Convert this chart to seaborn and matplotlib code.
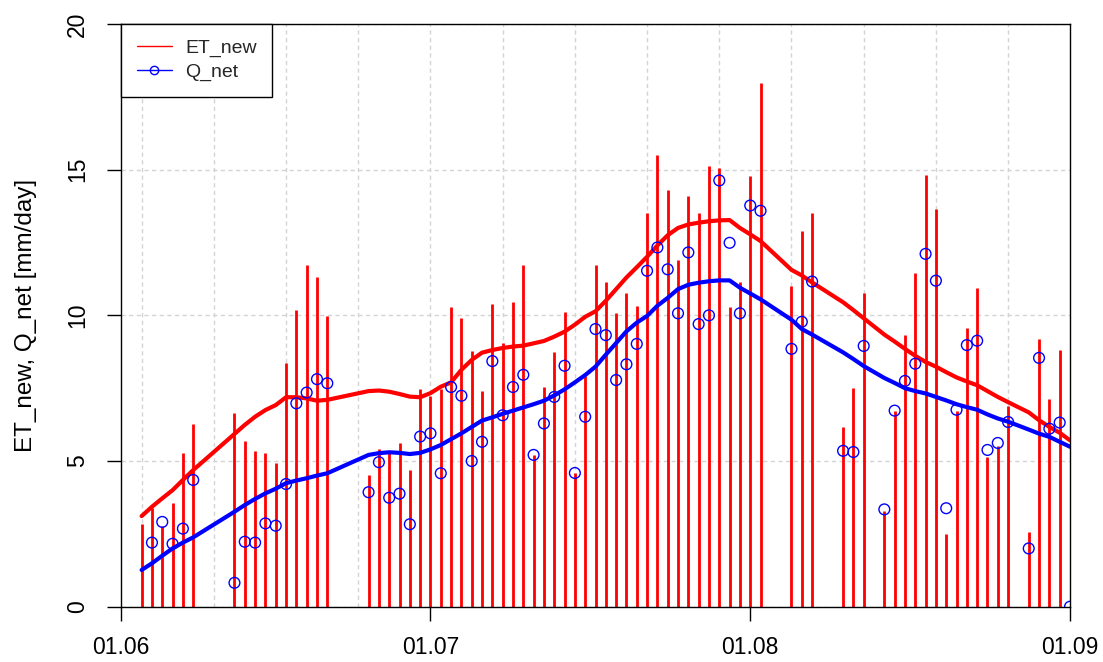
import numpy as np
import pandas as pd
import seaborn as sns
import matplotlib
matplotlib.use("Agg")
import matplotlib.pyplot as plt
from matplotlib.lines import Line2D

# Tage seit dem 1. Juni
days = [2, 3, 4, 5, 6, 7,
        11, 12, 13, 14, 15, 16, 17, 18, 19, 20,
        24, 25, 26, 27, 28, 29, 30, 31, 32, 33,
        34, 35, 36, 37, 38, 39, 40, 41, 42, 43,
        44, 45, 46, 47, 48, 49, 50, 51, 52, 53,
        54, 55, 56, 57, 58, 59, 60, 61, 62,
        65, 66, 67,
        70, 71, 72,
        74, 75, 76, 77, 78, 79, 80, 81, 82, 83, 84, 85, 86,
        88, 89, 90, 91, 92]

et_new = [2.84, 3.38, 2.77, 3.55, 5.26, 6.26,
          6.64, 5.69, 5.34, 5.27, 4.92, 8.35, 10.19, 11.73, 11.33, 9.99,
          4.52, 5.40, 5.27, 5.61, 4.69, 7.46, 7.24, 7.46, 10.28, 9.90,
          8.78, 7.40, 10.40, 9.04, 10.45, 11.73, 5.21, 7.55, 8.73, 10.12,
          4.59, 7.93, 11.72, 11.13, 10.08, 10.76, 10.33, 13.53, 15.49, 14.31,
          11.89, 14.08, 13.53, 15.12, 15.06, 10.30, 11.13, 14.78, 17.98,
          11.00, 12.89, 13.53,
          6.18, 7.50, 10.76,
          3.30, 6.70, 9.34, 11.47, 14.82, 13.65, 2.48, 6.70, 9.56, 10.93, 5.15, 5.51, 6.90,
          2.56, 9.18, 7.14, 8.80, 0.0]

q_net = [np.nan, 2.20, 2.91, 2.16, 2.68, 4.35,
         0.82, 2.23, 2.20, 2.86, 2.78, 4.21, 6.98, 7.35, 7.81, 7.67,
         3.93, 4.96, 3.74, 3.88, 2.83, 5.84, 5.95, 4.58, 7.54, 7.24,
         5.00, 5.66, 8.43, 6.57, 7.54, 7.96, 5.21, 6.29, 7.20, 8.27,
         4.59, 6.52, 9.53, 9.32, 7.78, 8.32, 9.02, 11.53, 12.33, 11.58,
         10.07, 12.16, 9.70, 10.00, 14.63, 12.49, 10.07, 13.77, 13.59,
         8.85, 9.78, 11.16,
         5.35, 5.31, 8.95,
         3.34, 6.73, 7.75, 8.34, 12.11, 11.19, 3.38, 6.76, 8.98, 9.13, 5.38, 5.62, 6.34,
         2.00, 8.54, 6.11, 6.32, 0.0]

# geglaettete Kurven
et_smooth = [3.11, 3.43, 3.72, 4.00, 4.35, 4.69,
             5.93, 6.24, 6.52, 6.75, 6.92, 7.19, 7.19, 7.15, 7.07, 7.10,
             7.40, 7.42, 7.38, 7.30, 7.21, 7.19, 7.33, 7.55, 7.70, 8.13,
             8.47, 8.72, 8.81, 8.88, 8.93, 8.96, 9.04, 9.12, 9.27, 9.44,
             9.68, 9.95, 10.14, 10.50, 10.90, 11.30, 11.65, 12.01, 12.40, 12.75,
             13.00, 13.12, 13.18, 13.23, 13.26, 13.27, 13.00, 12.78, 12.55,
             11.56, 11.37, 11.13,
             10.45, 10.18, 9.90,
             9.34, 9.10, 8.85, 8.61, 8.40, 8.24, 8.05, 7.87, 7.73, 7.60, 7.40, 7.20, 7.02,
             6.67, 6.40, 6.17, 5.97, 5.71]

q_smooth = [1.26, 1.49, 1.75, 2.00, 2.20, 2.38,
            3.26, 3.49, 3.70, 3.89, 4.05, 4.24, 4.33, 4.41, 4.50, 4.58,
            5.21, 5.27, 5.30, 5.28, 5.24, 5.28, 5.40, 5.55, 5.75, 5.95,
            6.17, 6.39, 6.50, 6.62, 6.73, 6.84, 6.95, 7.07, 7.25, 7.46,
            7.70, 7.95, 8.24, 8.65, 9.05, 9.45, 9.75, 9.98, 10.33, 10.60,
            10.90, 11.05, 11.12, 11.17, 11.20, 11.20, 10.95, 10.75, 10.55,
            9.85, 9.53, 9.34,
            8.73, 8.50, 8.26,
            7.85, 7.68, 7.50, 7.40, 7.32, 7.20, 7.08, 6.95, 6.85, 6.76, 6.60, 6.46, 6.35,
            6.08, 5.94, 5.83, 5.66, 5.49]

x_tick_dates = ["2015-06-01", "2015-07-01", "2015-08-01", "2015-09-01"]
x_tick_labels = ["01.06", "01.07", "01.08", "01.09"]
y_ticks = [0, 5, 10, 15, 20]

start = pd.Timestamp("2015-06-01")
df = pd.DataFrame({
    "date": start + pd.to_timedelta(days, unit="D"),
    "ET_new": et_new,
    "Q_net": q_net,
    "ET_smooth": et_smooth,
    "Q_smooth": q_smooth,
})

sns.set_theme(style="white")
plt.rcParams["font.family"] = ["Liberation Sans", "DejaVu Sans"]

fig = plt.figure(figsize=(11.03, 6.62), dpi=100)
ax = fig.add_axes([121 / 1103, 55.3 / 662, 949 / 1103, 582.7 / 662])

# Gitter (jede Woche ab 3. Juni)
grid_dates = start + pd.to_timedelta(np.arange(2, 92, 7), unit="D")
ax.set_xticks(grid_dates, minor=True)
ax.xaxis.remove_overlapping_locs = False
ax.grid(True, which="minor", axis="x", color="#d3d3d3", linestyle=(0, (3, 2.5)), lw=1.0, zorder=0)
ax.grid(True, which="major", axis="y", color="#d3d3d3", linestyle=(0, (3, 2.5)), lw=1.0, zorder=0)
ax.set_axisbelow(True)

ax.vlines(df["date"], 0, df["ET_new"], color="red", lw=2.0, zorder=2)
sns.lineplot(data=df, x="date", y="ET_smooth", color="red", lw=3.0, ax=ax, zorder=3)
sns.lineplot(data=df, x="date", y="Q_smooth", color="blue", lw=3.0, ax=ax, zorder=3)
sns.scatterplot(data=df, x="date", y="Q_net", color="blue", facecolors="none",
                edgecolor="blue", s=60, linewidth=1.0, ax=ax, zorder=4)

ax.set_xlim(start, pd.Timestamp("2015-09-01"))
ax.set_ylim(0, 20)
ax.set_xticks(pd.to_datetime(x_tick_dates))
ax.set_xticklabels(x_tick_labels)
ax.set_yticks(y_ticks)
ax.set_yticklabels([str(v) for v in y_ticks])
ax.set_xlabel("")
ax.set_ylabel("ET_new, Q_net [mm/day]", fontsize=17.5, color="black")
ax.yaxis.set_label_coords(-0.089, 0.5)

for s in ax.spines.values():
    s.set_color("black")
    s.set_linewidth(1.0)

ax.tick_params(axis="both", which="major", bottom=True, left=True, direction="out",
               length=10, width=1, color="black", labelsize=16.5, labelcolor="black")
ax.tick_params(axis="x", which="minor", length=0)
ax.tick_params(axis="x", pad=11)
ax.tick_params(axis="y", pad=13, labelrotation=90)
for lab in ax.get_yticklabels():
    lab.set_va("center")

handles = [Line2D([], [], color="red", lw=1),
           Line2D([], [], color="blue", lw=1, marker="o", mfc="none", ms=6, mew=1)]
leg = ax.legend(handles, ["ET_new", "Q_net"], loc="upper left", bbox_to_anchor=(0, 1),
                borderaxespad=0, fancybox=False, framealpha=1, edgecolor="black",
                fontsize=14, handlelength=1.8, handletextpad=0.7, borderpad=0.8,
                labelspacing=0.3)
leg.get_frame().set_linewidth(1.0)

fig.savefig("out.png", dpi=100)
